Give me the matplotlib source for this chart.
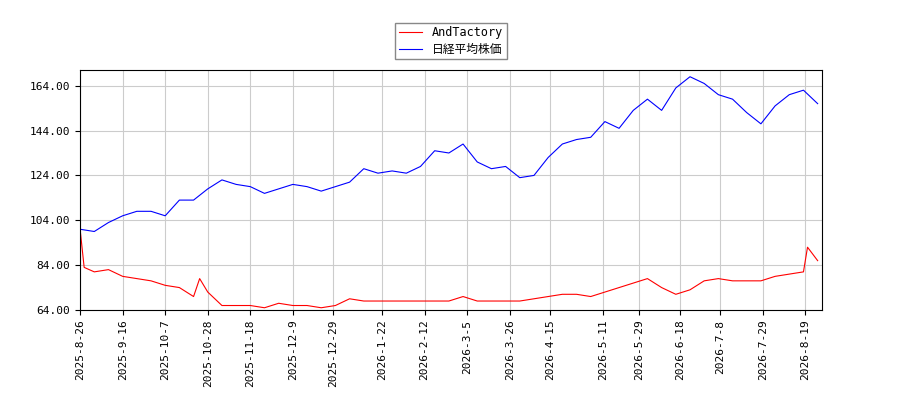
import matplotlib
matplotlib.use("Agg")
import matplotlib.pyplot as plt
import pandas as pd

plt.rcParams['font.family'] = ['DejaVu Sans Mono', 'Noto Sans CJK JP']

blue_dates = pd.date_range("2025-08-26", periods=53, freq="7D")
blue_vals = [100, 99, 103, 106, 108, 108, 106, 113, 113, 118, 122, 120, 119, 116, 118,
             120, 119, 117, 119, 121, 127, 125, 126, 125, 128, 135, 134, 138, 130, 127,
             128, 123, 124, 132, 138, 140, 141, 148, 145, 153, 158, 153, 163, 168, 165,
             160, 158, 152, 147, 155, 160, 162, 156]

red_dates = pd.to_datetime([
    "2025-08-26", "2025-08-28", "2025-09-02", "2025-09-09", "2025-09-16", "2025-09-23",
    "2025-09-30", "2025-10-07", "2025-10-14", "2025-10-21", "2025-10-24", "2025-10-28",
    "2025-11-04", "2025-11-11", "2025-11-18", "2025-11-25", "2025-12-02", "2025-12-09",
    "2025-12-16", "2025-12-23", "2025-12-30", "2026-01-06", "2026-01-13", "2026-01-20",
    "2026-01-27", "2026-02-03", "2026-02-10", "2026-02-17", "2026-02-24", "2026-03-03",
    "2026-03-10", "2026-03-17", "2026-03-24", "2026-03-31", "2026-04-07", "2026-04-14",
    "2026-04-21", "2026-04-28", "2026-05-05", "2026-05-12", "2026-05-19", "2026-05-26",
    "2026-06-02", "2026-06-09", "2026-06-16", "2026-06-23", "2026-06-30", "2026-07-07",
    "2026-07-14", "2026-07-21", "2026-07-28", "2026-08-04", "2026-08-11", "2026-08-18",
    "2026-08-20", "2026-08-25"])
red_vals = [100, 83, 81, 82, 79, 78, 77, 75, 74, 70, 78, 72, 66, 66, 66, 65, 67, 66,
            66, 65, 66, 69, 68, 68, 68, 68, 68, 68, 68, 70, 68, 68, 68, 68, 69, 70,
            71, 71, 70, 72, 74, 76, 78, 74, 71, 73, 77, 78, 77, 77, 77, 79, 80, 81,
            92, 86]

tick_labels = ["2025-8-26", "2025-9-16", "2025-10-7", "2025-10-28", "2025-11-18",
               "2025-12-9", "2025-12-29", "2026-1-22", "2026-2-12", "2026-3-5",
               "2026-3-26", "2026-4-15", "2026-5-11", "2026-5-29", "2026-6-18",
               "2026-7-8", "2026-7-29", "2026-8-19"]
tick_dates = pd.to_datetime(tick_labels, format="%Y-%m-%d")

fig = plt.figure(figsize=(9, 4), dpi=100)
ax = fig.add_axes([0.089, 0.225, 0.824, 0.6])
ax.plot(red_dates, red_vals, color="red", lw=0.8, label="AndTactory")
ax.plot(blue_dates, blue_vals, color="blue", lw=0.8, label="日経平均株価")
ax.set_xlim(pd.Timestamp("2025-08-26"), pd.Timestamp("2026-08-27"))
ax.set_ylim(64, 171)
ax.set_yticks([64, 84, 104, 124, 144, 164])
ax.yaxis.set_major_formatter(matplotlib.ticker.FormatStrFormatter("%.2f"))
ax.set_xticks(tick_dates)
ax.set_xticklabels(tick_labels, rotation=90, fontsize=8)
ax.tick_params(axis="y", labelsize=8)
ax.grid(True, color="#cccccc", lw=0.8)
ax.legend(loc="lower center", bbox_to_anchor=(0.5, 1.02), fontsize=8.5, framealpha=1,
          edgecolor="#888888", fancybox=False, borderpad=0.3, labelspacing=0.3)
fig.savefig("out.png")
